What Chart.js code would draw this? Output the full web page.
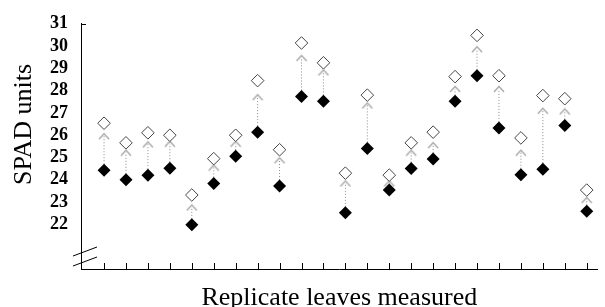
<!DOCTYPE html>
<html>
<head>
<meta charset="utf-8">
<script src="https://cdn.jsdelivr.net/npm/chart.js@4"></script>
<style>
  body { margin: 0; background: #fff; }
  canvas { display: block; }
</style>
</head>
<body>
<canvas id="spadChart" width="605" height="307"></canvas>
<script>
// Hojas replicadas (posición en el eje x)
const leaves = [0, 1, 2, 3, 4, 5, 6, 7, 8, 9, 10, 11, 12, 13, 14, 15, 16, 17, 18, 19, 20, 21, 22];

// Valores SPAD
const spadFilled = [24.43, 24.0, 24.21, 24.52, 21.98, 23.84, 25.06, 26.14, 23.72, 27.74, 27.52, 22.52,
                    25.41, 23.54, 24.51, 24.94, 27.52, 28.67, 26.33, 24.23, 24.48, 26.44, 22.59];
const spadArrow  = [25.96, 25.22, 25.59, 25.62, 22.76, 24.55, 25.62, 27.71, 24.88, 29.47, 28.82, 23.84,
                    27.34, 23.84, 25.22, 25.56, 28.08, 29.86, 28.08, 25.22, 27.1, 27.07, 23.1];
const spadOpen   = [26.54, 25.66, 26.11, 26.0, 23.32, 24.95, 26.0, 28.45, 25.35, 30.14, 29.25, 24.3,
                    27.8, 24.21, 25.66, 26.14, 28.63, 30.48, 28.67, 25.88, 27.78, 27.64, 23.54];

// Marcas del eje y
const yTicks = [22, 23, 24, 25, 26, 27, 28, 29, 30, 31];

// Puntos para los datasets
const toPoints = (vals) => vals.map((v, i) => ({ x: leaves[i], y: v }));

// Flechas punteadas: del rombo negro hasta la punta gris (null corta la línea)
const arrowSegments = [];
leaves.forEach((x, i) => {
    arrowSegments.push({ x: x, y: spadFilled[i] });
    arrowSegments.push({ x: x, y: spadArrow[i] });
    arrowSegments.push({ x: x, y: null });
});

// Punta de flecha "^" gris como imagen
const caret = document.createElement('canvas');
caret.width = 12;
caret.height = 8;
const cctx = caret.getContext('2d');
cctx.strokeStyle = '#a8a8a8';
cctx.lineWidth = 1.4;
cctx.beginPath();
cctx.moveTo(1, 7);
cctx.lineTo(6, 1.5);
cctx.lineTo(11, 7);
cctx.stroke();

// Detalles: marcas del eje x hacia arriba, corte del eje y, título del eje y
const decorPlugin = {
    id: 'decor',
    afterDraw(chart) {
        const ctx = chart.ctx;
        const xs = chart.scales.x;
        const ys = chart.scales.y;
        const area = chart.chartArea;
        ctx.save();
        ctx.strokeStyle = '#000';
        ctx.lineWidth = 1;
        ctx.beginPath();
        leaves.forEach(v => {
            const px = Math.round(xs.getPixelForValue(v)) + 0.5;
            ctx.moveTo(px, area.bottom);
            ctx.lineTo(px, area.bottom - 6);
        });
        // pequeña marca superior del eje y
        const yTop = Math.round(ys.getPixelForValue(31)) + 0.5;
        ctx.moveTo(area.left, yTop);
        ctx.lineTo(area.left + 5, yTop);
        ctx.stroke();

        // líneas de corte del eje
        ctx.beginPath();
        ctx.moveTo(area.left - 8, area.bottom - 13);
        ctx.lineTo(area.left + 16, area.bottom - 22);
        ctx.moveTo(area.left - 8, area.bottom - 3);
        ctx.lineTo(area.left + 16, area.bottom - 12);
        ctx.stroke();

        // título del eje y
        ctx.translate(24, 124.5);
        ctx.rotate(-Math.PI / 2);
        ctx.fillStyle = '#000';
        ctx.font = '26px "Liberation Serif", "Times New Roman", serif';
        ctx.textAlign = 'center';
        ctx.textBaseline = 'middle';
        ctx.fillText('SPAD units', 0, 0);
        ctx.restore();
    }
};

const ctx = document.getElementById('spadChart').getContext('2d');
const spadChart = new Chart(ctx, {
    type: 'scatter',
    data: {
        datasets: [
            {
                label: 'SPAD 1',
                data: toPoints(spadFilled),
                pointStyle: 'rectRot',
                pointRadius: 6.5,
                backgroundColor: '#000',
                borderColor: '#000',
                borderWidth: 0,
                order: 0
            },
            {
                label: 'SPAD 2',
                data: toPoints(spadOpen),
                pointStyle: 'rectRot',
                pointRadius: 6.3,
                backgroundColor: '#fff',
                borderColor: '#444',
                borderWidth: 1,
                order: 1
            },
            {
                label: 'Estimado',
                data: toPoints(spadArrow),
                pointStyle: caret,
                order: 2
            },
            {
                label: 'Cambio',
                data: arrowSegments,
                showLine: true,
                spanGaps: false,
                pointRadius: 0,
                borderColor: '#8a8a8a',
                borderWidth: 1,
                borderDash: [1, 2],
                order: 3
            }
        ]
    },
    options: {
        responsive: false,
        animation: false,
        events: [],
        layout: { padding: { top: 22, right: 0, bottom: 0, left: 0 } },
        plugins: {
            legend: { display: false },
            tooltip: { enabled: false }
        },
        scales: {
            x: {
                type: 'linear',
                min: -1.05,
                max: 22.5,
                grid: { display: false },
                border: { display: true, color: '#000', width: 1 },
                ticks: { display: false },
                afterFit(scale) { scale.height = 38; },
                title: {
                    display: true,
                    text: 'Replicate leaves measured',
                    color: '#000',
                    padding: 0,
                    font: { family: '"Liberation Serif", "Times New Roman", serif', size: 26, lineHeight: 0.68 }
                }
            },
            y: {
                min: 20,
                max: 31,
                grid: { display: false, drawTicks: false },
                border: { display: true, color: '#000', width: 1 },
                afterBuildTicks(scale) { scale.ticks = yTicks.map(v => ({ value: v })); },
                afterFit(scale) { scale.width = 81; },
                ticks: {
                    color: '#000',
                    padding: 13,
                    font: { family: '"Liberation Serif", "Times New Roman", serif', size: 18, weight: 'bold' }
                }
            }
        }
    },
    plugins: [decorPlugin]
});
</script>
</body>
</html>
